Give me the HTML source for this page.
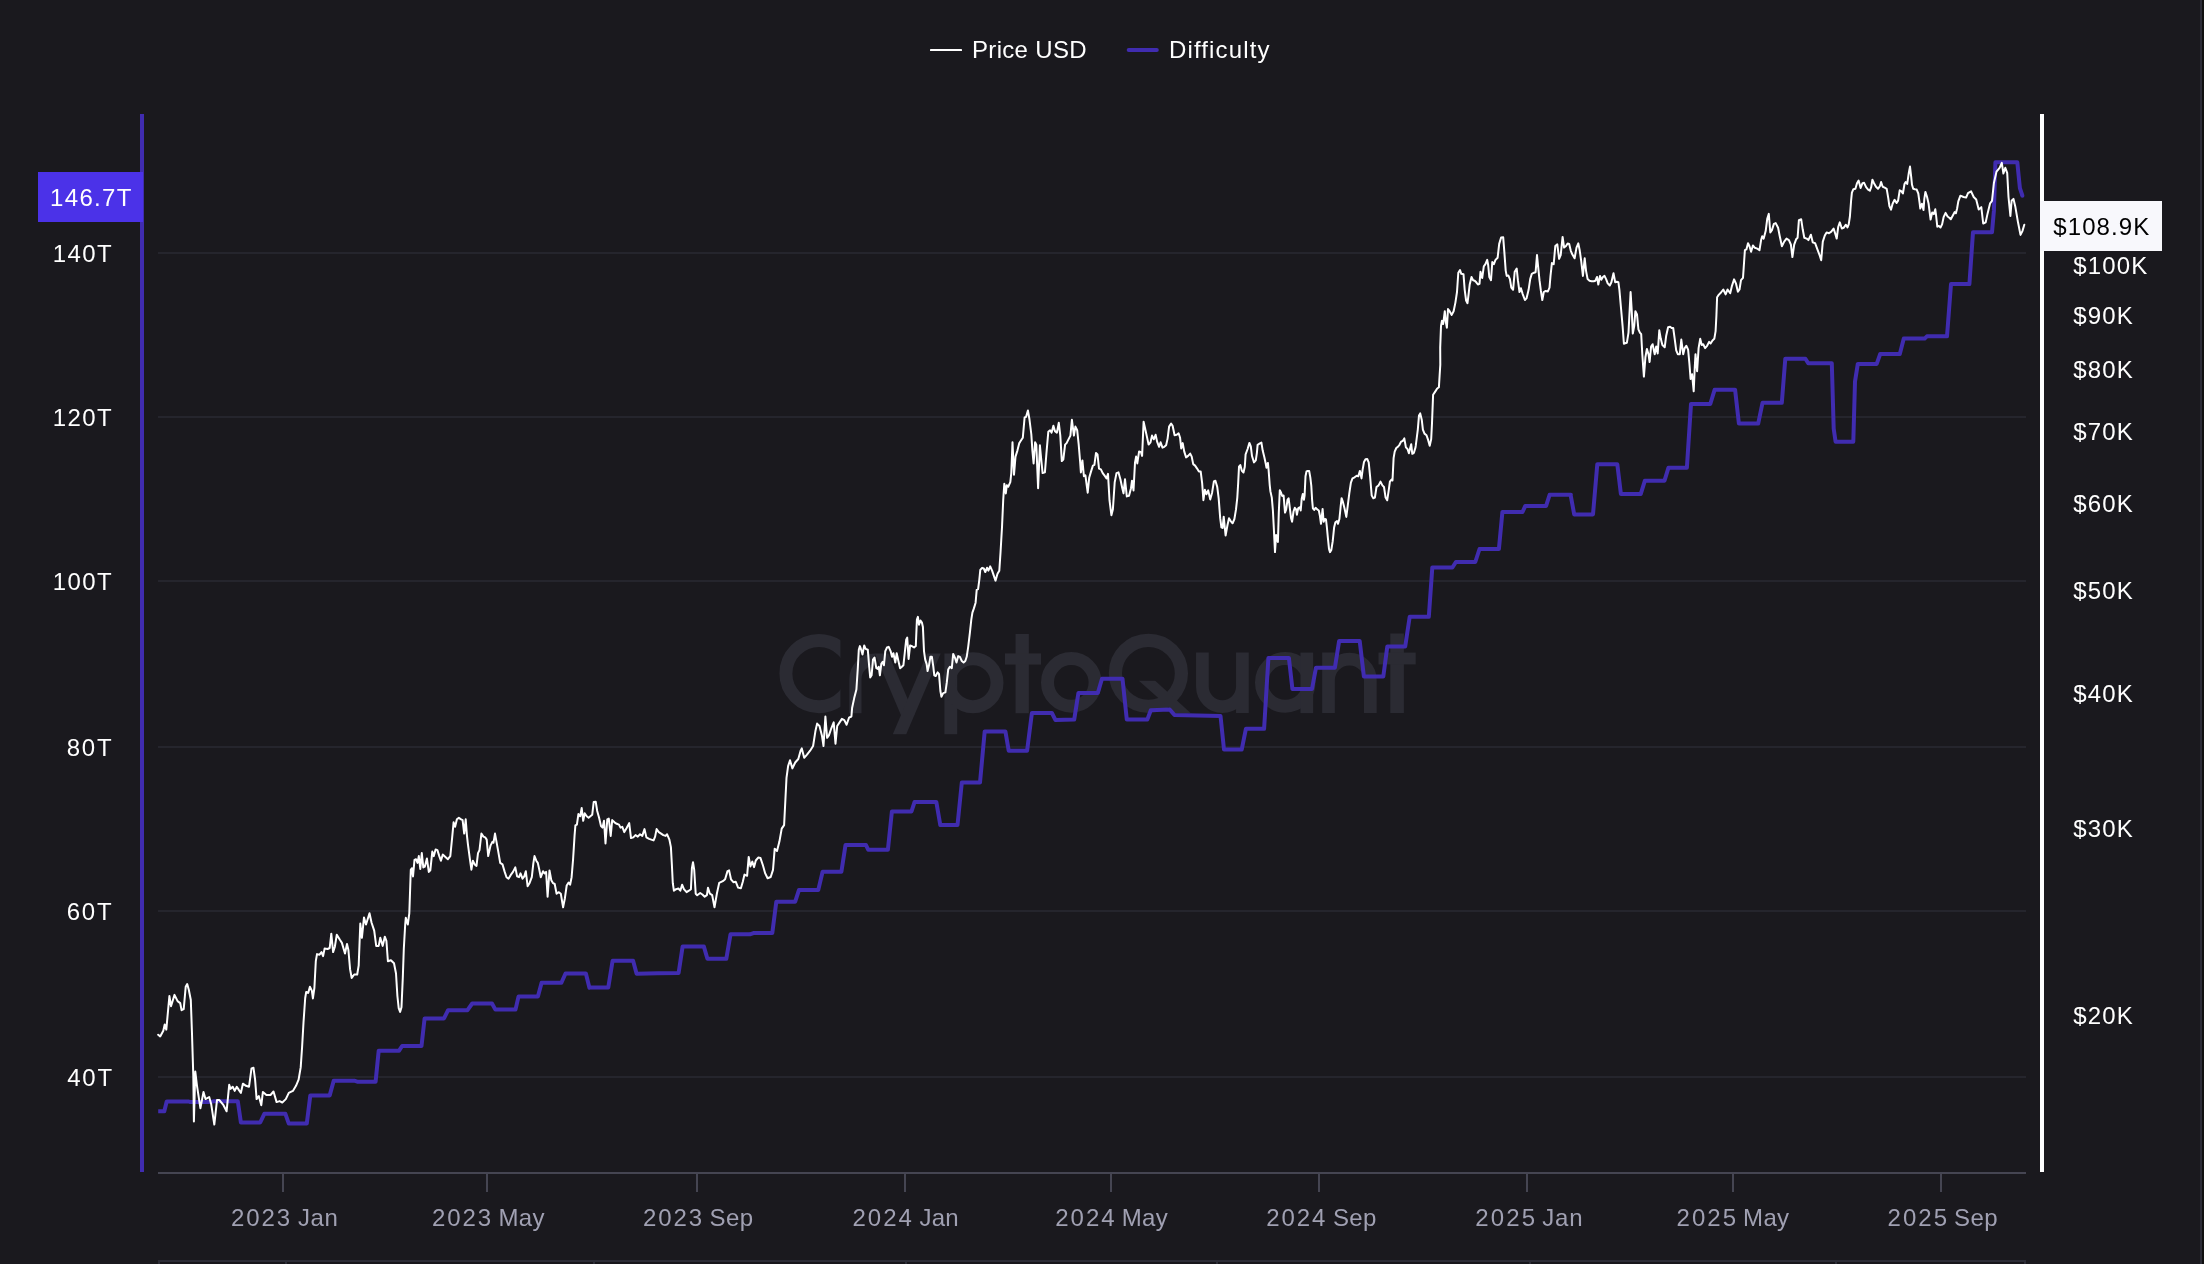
<!DOCTYPE html>
<html><head><meta charset="utf-8"><title>Price USD vs Difficulty</title>
<style>
html,body{margin:0;padding:0;background:#1a191e;}
body{width:2204px;height:1264px;overflow:hidden;font-family:"Liberation Sans",sans-serif;}
svg{display:block;will-change:transform;}
</style></head><body>
<svg width="2204" height="1264" viewBox="0 0 2204 1264">
<rect width="2204" height="1264" fill="#1a191e"/>
<rect x="2200" y="0" width="2" height="1264" fill="#2c2c36"/>
<rect x="2202" y="0" width="2" height="1264" fill="#101010"/>
<g fill="none" stroke="#2b2b33" stroke-width="13" stroke-linecap="butt">
<clipPath id="cc"><rect x="770" y="620" width="70.4" height="110"/></clipPath><circle cx="819" cy="673.6" r="33.1" clip-path="url(#cc)"/>
<path d="M855.4 713.3V679A19.5 19.5 0 0 1 874.9 659.5" stroke-width="12.2"/>
<path d="M950.8 653.4V734.3" stroke-width="12.8"/>
<circle cx="973" cy="682.7" r="24"/>
<path d="M1022.2 634V713.3" stroke-width="13.3"/>
<circle cx="1071.3" cy="682.4" r="23.8"/>
<circle cx="1148.4" cy="673.3" r="33" stroke-width="13.2"/>
<path d="M1202.4 652.6V686.6A20 20 0 0 0 1242.4 686.6M1242.4 652.6V713.1" stroke-width="12.7"/>
<circle cx="1285.3" cy="682.4" r="23.8"/>
<path d="M1306.8 652.6V713.1" stroke-width="12.7"/>
<path d="M1328.5 652.6V713.1M1328.5 680A20.9 20.9 0 0 1 1370.3 680V713.1" stroke-width="12.7"/>
<path d="M1397.1 633.6V713.1" stroke-width="13.6"/>
</g>
<g fill="#2b2b33">
<rect x="1005" y="653.4" width="36" height="11.2"/>
<rect x="1378.5" y="652.6" width="37.2" height="11.8"/>
<path d="M874.8 653.4H888.3L914.5 714.9H900.9Z"/>
<path d="M927.2 653.4H940.7L906.2 734.3H892.8Z"/>
<path d="M1138.9 680.8H1155.2L1190.6 713.1H1175.2Z"/>
</g>

<rect x="158" y="252" width="1868" height="2" fill="#25252d"/>
<rect x="158" y="416" width="1868" height="2" fill="#25252d"/>
<rect x="158" y="580" width="1868" height="2" fill="#25252d"/>
<rect x="158" y="746" width="1868" height="2" fill="#25252d"/>
<rect x="158" y="910" width="1868" height="2" fill="#25252d"/>
<rect x="158" y="1076" width="1868" height="2" fill="#25252d"/>
<rect x="158" y="1172" width="1868" height="2" fill="#454552"/>
<rect x="282" y="1174" width="2" height="18" fill="#454552"/>
<rect x="486" y="1174" width="2" height="18" fill="#454552"/>
<rect x="696" y="1174" width="2" height="18" fill="#454552"/>
<rect x="904" y="1174" width="2" height="18" fill="#454552"/>
<rect x="1110" y="1174" width="2" height="18" fill="#454552"/>
<rect x="1318" y="1174" width="2" height="18" fill="#454552"/>
<rect x="1526" y="1174" width="2" height="18" fill="#454552"/>
<rect x="1732" y="1174" width="2" height="18" fill="#454552"/>
<rect x="1940" y="1174" width="2" height="18" fill="#454552"/>
<rect x="158" y="1260" width="1868" height="2" fill="#2c2c36"/>
<rect x="158" y="1262" width="1868" height="2" fill="#17161b"/>
<rect x="158" y="1262" width="2" height="2" fill="#2c2c36"/>
<rect x="285" y="1262" width="2" height="2" fill="#2c2c36"/>
<rect x="593" y="1262" width="2" height="2" fill="#2c2c36"/>
<rect x="905" y="1262" width="2" height="2" fill="#2c2c36"/>
<rect x="1216" y="1262" width="2" height="2" fill="#2c2c36"/>
<rect x="1529" y="1262" width="2" height="2" fill="#2c2c36"/>
<rect x="1835" y="1262" width="2" height="2" fill="#2c2c36"/>
<rect x="2024" y="1262" width="2" height="2" fill="#2c2c36"/>
<path d="M158.2 1111.3L164.3 1111.3L166.7 1101.5L188.8 1101.5L189.8 1101.9L211.2 1101.9L213.7 1101.3L237.8 1101.3L240.9 1122.5L260.2 1122.5L264.3 1113.8L285.4 1113.8L288.8 1123.6L306.8 1123.6L310.3 1095.4L329.7 1095.4L333.7 1080.7L354.2 1080.7L357.2 1081.7L375.6 1081.7L378.7 1050.7L399.1 1050.7L402.1 1046.0L421.5 1046.0L424.6 1018.4L444.0 1018.4L448.1 1010.2L467.5 1010.2L472.2 1003.5L492.0 1003.5L495.4 1009.6L515.5 1009.6L518.5 996.6L537.9 996.6L541.6 982.7L561.4 982.7L565.5 973.5L585.9 973.5L589.4 987.8L589.4 987.4L608.3 987.4L612.6 960.7L633.1 960.7L636.6 973.7L657.9 973.2L678.6 973.0L682.6 946.6L703.9 946.6L707.4 958.8L726.3 958.8L730.5 934.3L749.9 934.3L753.4 933.1L772.3 933.1L776.3 901.7L795.2 901.7L799.0 889.9L818.3 889.9L822.6 871.8L841.4 871.8L845.5 845.1L866.0 845.1L868.3 849.8L887.9 849.8L891.9 811.4L911.5 811.4L914.6 801.9L936.3 801.9L940.3 825.1L957.5 825.1L961.8 782.6L980.0 782.6L984.7 731.4L1005.4 731.4L1008.7 750.7L1027.1 750.7L1031.9 713.0L1051.9 713.0L1055.5 720.1L1074.2 719.6L1078.4 693.0L1097.8 693.0L1102.0 678.8L1122.5 678.8L1126.8 719.6L1147.3 719.6L1150.8 710.2L1169.7 709.5L1174.4 714.9L1220.5 715.9L1224.0 749.6L1241.7 749.6L1245.9 728.8L1264.1 728.8L1268.4 658.1L1288.9 658.1L1292.4 689.0L1312.0 689.0L1316.0 667.7L1334.9 667.7L1339.1 641.1L1359.7 641.1L1363.9 676.5L1383.3 676.5L1387.3 646.5L1405.2 646.5L1409.7 616.8L1428.8 616.8L1432.3 567.5L1452.4 567.5L1455.9 562.0L1475.3 562.0L1479.5 549.0L1498.9 549.0L1502.4 512.0L1522.5 512.0L1525.3 505.9L1546.1 505.9L1549.6 494.8L1570.9 494.8L1570.6 494.8L1574.2 514.4L1593.0 514.4L1597.3 464.2L1617.3 464.2L1620.9 494.1L1640.7 494.1L1644.9 480.7L1664.5 480.7L1668.5 467.7L1686.9 467.7L1691.0 404.0L1710.3 404.0L1714.6 389.8L1735.1 389.8L1738.9 423.6L1758.2 423.6L1762.5 402.8L1781.8 402.8L1785.3 358.7L1805.4 358.7L1808.2 363.2L1831.8 363.2L1833.7 428.8L1835.6 441.7L1853.3 441.7L1855.0 381.6L1857.8 363.9L1876.7 363.9L1880.2 354.0L1899.8 354.0L1903.8 338.6L1924.6 338.6L1926.9 336.3L1947.0 336.3L1951.0 284.1L1969.4 284.1L1973.0 232.2L1992.0 232.2L1993.9 210.9L1995.4 162.2L2017.3 162.2L2018.6 175.4L2019.9 188.1L2022.4 195.7" fill="none" stroke="#402cb0" stroke-width="4" stroke-linejoin="round" stroke-linecap="butt"/>
<circle cx="2022.4" cy="195.7" r="2" fill="#402cb0"/>
<path d="M158.2 1034.7L160.2 1036.4L163.3 1030.7L164.7 1024.5L166.3 1029.6L169.4 996.0L171.0 1006.2L174.5 994.9L177.6 1001.1L180.2 1003.1L181.6 1010.2L183.7 1009.2L185.7 986.8L187.2 984.1L188.8 989.8L190.8 1000.0L191.9 1030.7L193.3 1075.6L193.9 1121.5L195.3 1071.5L197.0 1085.8L200.4 1108.2L203.5 1091.9L205.5 1099.1L209.2 1097.0L211.2 1104.2L214.3 1124.6L217.0 1100.1L219.4 1100.1L223.5 1105.2L226.6 1111.3L229.2 1084.8L230.6 1088.9L232.7 1086.8L234.7 1090.9L236.8 1086.8L238.8 1089.9L240.9 1092.9L242.9 1083.7L246.0 1085.8L249.0 1086.8L251.5 1068.4L253.5 1067.8L255.1 1079.7L256.6 1099.1L258.8 1096.0L261.3 1105.2L262.9 1091.9L266.4 1095.0L270.5 1095.0L273.5 1091.5L276.6 1102.1L279.6 1101.1L282.3 1102.5L285.8 1099.1L288.8 1092.9L292.9 1090.9L296.0 1085.8L298.6 1079.7L300.7 1067.4L302.1 1047.0L303.5 1022.5L305.2 998.0L306.2 991.9L308.2 992.9L309.9 986.8L311.9 990.9L312.9 998.4L314.4 987.8L315.8 961.2L317.0 954.1L319.5 954.7L321.5 952.1L323.1 956.1L324.6 948.6L327.6 949.0L329.7 948.0L331.3 933.7L333.1 952.1L334.8 947.0L336.8 934.7L339.9 939.8L341.9 942.9L345.0 953.5L347.0 943.9L348.4 950.0L350.1 969.4L351.7 978.0L354.2 974.5L357.2 974.5L358.7 965.3L360.3 923.5L361.9 937.8L364.0 917.4L366.0 924.5L369.5 913.3L371.5 922.5L374.2 930.6L376.2 945.9L378.7 945.9L380.3 937.8L382.7 945.9L384.8 936.7L386.4 940.8L387.9 961.2L390.9 960.2L394.0 963.3L396.0 973.5L397.4 996.0L398.7 1008.2L400.1 1011.9L401.5 1007.2L402.8 977.6L403.8 949.0L405.2 924.5L405.8 917.8L407.8 924.5L409.3 913.3L410.8 869.7L411.8 868.2L413.0 876.4L414.5 859.9L416.0 859.2L417.5 862.9L418.8 856.1L420.3 868.9L421.8 853.1L423.3 867.4L424.8 866.7L426.9 858.4L428.8 871.9L430.3 870.4L432.3 851.6L433.8 856.1L435.6 849.4L437.4 850.1L439.3 856.1L440.9 860.7L442.8 854.6L445.4 856.9L447.9 859.2L450.3 856.1L452.1 838.1L453.6 822.3L455.1 826.8L456.9 819.3L458.9 817.8L461.1 819.3L462.6 820.1L464.2 833.6L465.7 819.3L466.9 835.1L467.9 844.1L469.9 859.2L471.4 869.7L472.9 860.7L474.7 864.4L476.5 865.9L478.0 853.1L479.5 850.1L481.4 833.6L483.4 836.6L485.2 837.4L486.7 839.6L488.2 856.1L490.5 845.6L492.4 841.9L493.5 842.6L495.0 833.6L496.5 841.9L498.0 850.1L500.2 862.9L502.5 864.4L504.7 871.9L506.5 877.2L508.5 878.7L510.8 874.9L513.0 871.9L515.3 867.4L517.1 876.4L519.0 877.2L520.5 873.4L522.5 878.7L524.3 876.4L525.8 871.2L527.6 886.2L529.5 883.2L531.8 877.2L533.3 863.7L534.5 856.1L536.3 860.7L537.8 862.9L539.3 869.7L540.8 877.2L543.1 871.2L544.6 873.4L546.1 871.9L547.6 896.7L549.5 870.4L551.3 880.2L553.1 883.2L554.7 884.0L556.6 893.7L558.9 892.2L560.8 893.7L563.1 907.3L564.9 898.2L566.7 885.5L568.6 882.5L570.1 884.7L571.6 877.2L573.1 859.2L574.6 835.1L575.4 825.3L576.9 824.6L578.4 814.1L580.2 816.3L581.7 808.0L583.2 820.8L584.7 813.3L586.7 816.3L588.6 817.8L590.4 816.3L592.2 814.8L593.7 802.0L595.7 801.7L597.2 811.0L599.1 817.8L601.0 826.1L602.5 827.6L604.0 820.8L605.5 843.4L607.3 819.3L608.8 818.6L610.7 835.9L612.2 820.1L614.5 822.3L616.7 823.8L619.0 824.6L620.5 827.6L622.3 826.8L624.3 832.1L626.5 828.3L629.2 823.1L631.0 838.1L633.3 837.4L635.5 835.1L637.8 836.6L640.0 834.3L642.3 835.9L644.5 829.1L646.4 837.4L649.1 838.9L651.3 839.6L653.6 840.4L655.1 836.6L656.6 829.1L658.8 832.1L661.1 833.6L663.3 835.1L665.6 835.9L667.1 834.3L669.4 839.6L670.9 847.1L671.9 865.2L672.8 883.2L673.9 890.7L676.1 889.2L678.4 888.5L680.3 890.7L682.1 884.7L683.9 889.2L686.6 892.2L688.9 890.7L690.9 889.2L691.9 868.2L693.0 862.2L694.2 869.7L695.7 893.7L697.2 895.2L700.2 893.0L702.4 894.5L704.7 896.7L706.9 895.2L708.0 887.7L709.9 893.7L712.2 895.2L714.5 907.3L716.9 893.5L719.2 882.9L722.8 881.2L725.1 879.3L727.5 871.1L729.1 870.4L731.0 879.3L733.4 882.2L735.7 881.7L738.1 887.6L740.9 888.3L742.8 881.7L744.5 874.6L747.1 875.8L748.7 856.9L750.4 866.4L752.3 861.6L754.1 867.1L755.8 860.5L758.2 857.6L760.5 858.1L762.9 865.2L765.2 873.4L767.6 878.2L770.7 877.0L773.0 869.9L774.7 848.7L777.0 851.0L779.4 841.6L781.7 828.6L784.1 825.1L785.3 801.5L786.5 777.9L788.1 766.1L790.0 760.2L792.4 768.4L795.2 762.5L798.3 759.0L800.6 750.7L801.8 748.4L804.2 757.8L807.0 754.7L810.1 750.7L813.1 746.0L815.5 730.7L817.1 723.6L819.5 726.0L821.9 735.4L823.5 746.0L825.4 716.5L827.1 737.8L828.9 735.4L831.3 728.3L833.7 722.4L835.5 743.7L837.2 726.0L839.6 722.4L841.9 718.9L844.3 720.1L846.6 724.8L849.0 717.7L851.4 716.5L852.1 708.0L854.2 698.1L856.4 689.5L857.8 668.2L858.8 649.7L859.9 646.1L861.4 650.4L862.5 654.6L864.2 645.4L865.6 648.9L867.8 649.7L869.2 666.7L870.2 677.4L871.6 675.3L873.0 659.6L874.5 657.5L876.3 668.2L877.7 668.9L878.7 666.7L879.9 675.3L881.3 663.9L882.7 661.8L883.9 665.3L885.3 651.1L887.0 647.5L888.7 646.8L890.6 651.1L892.0 656.8L893.4 653.2L895.3 662.5L896.7 653.2L898.4 661.0L900.1 668.2L901.9 666.7L903.4 665.3L904.8 652.5L906.2 639.7L907.2 637.6L908.6 658.9L910.1 645.4L911.9 646.1L914.1 647.5L915.8 646.1L916.9 619.7L917.9 616.9L919.0 624.7L920.5 620.5L921.9 622.6L922.9 626.9L924.0 651.1L925.2 659.6L926.6 663.9L927.6 671.0L929.0 665.3L930.4 656.8L931.9 656.8L933.3 666.7L934.3 675.3L935.7 676.0L937.6 672.4L939.0 673.9L940.4 691.0L941.4 696.7L943.2 693.1L945.4 692.4L946.8 682.4L948.2 669.6L949.9 666.7L951.8 668.2L953.2 653.9L955.1 658.2L956.5 662.5L958.2 656.1L959.9 656.8L961.8 661.0L963.6 662.5L965.3 661.0L966.7 656.8L968.2 646.8L969.9 632.6L971.3 619.7L972.4 612.6L973.9 608.4L975.6 602.7L976.7 589.8L978.1 589.1L979.3 579.9L980.3 569.9L982.1 567.8L983.8 568.5L985.3 572.0L987.0 567.8L988.4 570.6L990.2 566.3L992.1 570.6L993.8 575.6L995.5 580.6L997.5 573.8L999.3 570.8L1000.5 552.8L1002.0 527.3L1003.2 500.2L1004.3 483.7L1005.8 493.4L1006.8 485.2L1008.3 486.7L1010.3 482.2L1011.3 473.1L1012.5 442.3L1014.0 474.7L1015.5 456.6L1017.4 450.6L1019.3 443.1L1020.8 440.8L1022.8 437.8L1024.6 417.5L1026.1 416.8L1027.9 410.5L1029.4 419.0L1031.3 434.1L1032.4 450.6L1033.6 463.4L1035.1 442.3L1036.3 444.6L1038.1 488.2L1039.9 445.3L1041.1 458.1L1042.6 473.1L1044.9 472.4L1046.4 453.6L1048.3 431.8L1050.1 430.3L1051.6 432.6L1053.4 425.8L1054.9 431.1L1056.9 432.6L1058.8 422.8L1060.3 435.6L1061.8 461.1L1063.3 459.6L1065.1 444.6L1066.6 443.1L1068.1 440.1L1070.4 435.6L1071.9 419.8L1073.9 435.6L1075.4 426.6L1077.2 430.3L1078.7 444.6L1080.2 462.6L1080.9 472.4L1082.4 460.4L1083.9 476.2L1085.4 475.4L1087.7 492.7L1089.2 477.7L1091.0 471.6L1092.9 465.6L1094.4 464.9L1096.0 452.9L1097.5 454.4L1099.0 468.6L1100.9 469.4L1102.7 473.1L1105.0 476.2L1106.5 478.4L1108.0 473.9L1109.5 500.2L1111.4 515.2L1112.9 509.2L1114.7 482.2L1116.5 473.1L1118.5 472.4L1120.4 479.2L1122.3 488.2L1123.5 493.4L1125.0 479.2L1126.8 496.4L1129.0 495.7L1131.0 488.2L1132.0 480.7L1133.5 490.4L1135.0 462.6L1136.1 456.6L1137.3 463.4L1139.1 451.4L1141.0 452.1L1142.1 455.9L1143.6 421.8L1145.5 430.3L1147.0 437.1L1148.6 444.6L1150.5 442.3L1152.0 435.6L1153.8 439.3L1155.6 434.8L1157.1 441.6L1159.1 446.8L1160.6 442.3L1162.5 447.6L1164.3 446.8L1166.1 445.3L1167.6 438.6L1169.1 426.6L1171.1 423.6L1172.6 425.8L1174.6 435.3L1176.7 434.8L1178.6 433.3L1180.1 437.8L1181.2 448.4L1182.7 443.1L1184.2 451.4L1186.1 457.4L1188.1 455.9L1190.2 453.6L1191.7 456.6L1193.2 464.1L1195.1 465.6L1197.1 468.6L1198.9 471.6L1200.7 471.6L1202.2 483.7L1203.4 500.2L1204.9 489.7L1206.4 494.2L1208.2 490.4L1210.2 499.4L1212.1 492.7L1213.9 481.4L1215.4 480.7L1217.2 486.7L1218.7 498.7L1220.2 518.2L1221.4 527.3L1222.6 528.0L1223.7 516.7L1225.6 535.5L1227.5 525.0L1229.0 518.2L1230.7 521.1L1232.6 523.3L1234.4 519.0L1236.0 509.4L1237.3 497.6L1238.2 482.7L1239.0 466.7L1240.3 465.1L1241.9 470.9L1243.5 472.5L1244.8 466.7L1245.6 454.4L1247.6 449.0L1249.4 442.9L1250.8 446.4L1252.0 456.0L1254.0 462.4L1255.8 460.3L1256.9 452.8L1257.6 444.8L1259.5 443.7L1261.4 442.6L1262.7 450.6L1264.3 457.0L1265.7 463.5L1266.5 467.7L1267.9 462.9L1268.6 469.9L1269.7 484.8L1270.4 491.2L1271.8 497.6L1272.9 510.5L1273.9 529.7L1275.0 552.1L1276.1 535.0L1277.9 542.0L1278.8 512.6L1279.8 490.2L1281.1 492.8L1282.2 496.0L1283.6 495.5L1285.0 512.6L1286.2 509.4L1287.5 499.8L1288.6 498.2L1290.0 509.4L1291.0 517.9L1292.1 521.7L1293.5 511.5L1294.8 507.8L1296.1 509.4L1296.9 514.7L1298.2 508.3L1299.6 507.3L1300.7 510.5L1301.7 498.7L1302.8 493.9L1303.9 499.8L1304.6 495.5L1305.5 476.3L1306.5 471.5L1307.8 470.9L1309.2 471.1L1310.3 477.3L1311.3 485.9L1312.1 499.8L1312.9 508.3L1314.2 509.9L1315.6 507.8L1317.2 509.4L1318.8 510.5L1319.9 515.8L1321.0 523.8L1322.6 508.9L1323.6 521.7L1324.9 519.0L1326.0 519.5L1326.8 526.5L1327.9 538.2L1329.0 548.9L1330.0 552.1L1331.3 550.0L1332.7 541.4L1334.1 527.6L1335.4 522.2L1337.0 521.1L1338.0 523.8L1339.4 519.0L1340.7 506.2L1341.6 498.2L1342.9 501.9L1344.5 508.3L1346.3 516.9L1347.7 506.2L1349.3 493.4L1350.9 482.7L1352.5 478.4L1354.6 477.3L1356.7 475.7L1358.3 476.3L1359.9 470.9L1361.5 478.4L1362.6 469.9L1364.0 461.9L1365.5 459.2L1367.2 459.0L1368.7 462.4L1370.1 476.3L1371.7 495.5L1373.3 498.2L1374.9 497.6L1376.5 487.0L1378.6 485.4L1380.5 481.6L1382.4 485.4L1384.0 487.0L1385.6 497.6L1387.2 500.3L1388.6 491.2L1389.9 481.6L1391.5 479.5L1392.5 480.5L1393.6 458.1L1394.7 451.7L1396.3 448.0L1398.2 446.4L1399.5 444.8L1401.1 441.6L1402.7 441.0L1404.3 438.4L1405.9 447.4L1407.5 449.0L1408.9 453.3L1410.2 448.0L1411.2 444.2L1412.3 453.8L1413.9 452.8L1415.5 447.4L1415.8 445.4L1417.8 429.6L1419.0 415.4L1420.2 413.4L1421.8 420.1L1422.9 429.6L1424.5 433.6L1426.5 435.2L1428.1 439.9L1429.7 445.8L1431.2 439.1L1432.0 423.3L1432.6 407.5L1433.1 394.8L1435.2 391.6L1437.2 388.5L1438.9 387.3L1439.6 375.8L1440.3 364.7L1440.2 347.5L1441.0 326.1L1441.9 320.8L1443.2 324.0L1444.8 311.2L1445.8 321.9L1446.9 327.7L1448.0 309.1L1449.6 311.2L1451.7 314.9L1453.6 311.2L1455.4 302.6L1457.0 292.0L1458.3 272.7L1460.0 270.1L1461.3 273.8L1463.5 274.3L1464.7 289.8L1466.1 300.5L1467.5 303.2L1468.6 294.1L1469.7 284.5L1471.5 277.0L1473.1 280.2L1474.7 280.7L1476.3 282.3L1477.9 284.5L1479.5 283.9L1480.5 271.7L1482.2 278.1L1483.8 266.3L1485.4 264.2L1487.2 259.9L1488.2 265.3L1489.3 277.0L1491.0 280.2L1492.3 262.0L1493.9 264.2L1495.5 259.9L1497.6 257.8L1499.2 243.9L1501.1 237.5L1503.2 237.3L1504.3 251.4L1505.7 270.6L1506.7 275.9L1508.3 275.4L1509.9 279.1L1511.3 287.7L1513.1 289.8L1514.7 271.7L1516.7 268.5L1517.9 280.2L1519.5 292.0L1520.9 288.2L1522.7 294.1L1524.9 300.0L1526.5 298.4L1528.6 289.8L1530.2 279.1L1531.8 273.8L1534.0 272.7L1535.6 272.2L1537.0 255.1L1538.2 267.4L1539.5 280.2L1540.9 290.9L1542.3 300.0L1543.8 292.0L1545.7 290.9L1547.9 291.4L1549.5 287.7L1550.5 275.9L1551.9 263.1L1553.7 264.2L1555.3 246.0L1557.3 244.4L1559.1 258.8L1560.7 255.1L1562.6 236.9L1564.1 247.6L1566.0 246.0L1567.6 243.4L1569.2 243.9L1570.8 250.8L1572.4 254.6L1574.6 258.3L1576.5 247.6L1578.3 243.4L1579.7 250.3L1581.2 261.0L1582.9 275.9L1584.7 258.3L1586.1 271.1L1587.6 279.1L1589.5 280.7L1591.6 281.3L1593.8 281.3L1595.4 280.7L1597.0 277.0L1598.3 284.5L1600.0 275.9L1601.3 279.7L1602.9 277.0L1604.5 275.9L1606.1 279.1L1607.7 283.4L1609.8 285.5L1611.4 282.3L1613.5 273.3L1615.2 282.3L1616.8 281.8L1618.4 282.3L1619.4 289.8L1621.0 308.0L1622.6 326.1L1623.9 343.8L1625.3 343.2L1626.9 342.7L1628.5 332.6L1629.6 311.2L1630.6 292.0L1631.7 310.1L1632.8 333.6L1634.2 326.1L1635.4 311.2L1637.0 314.4L1638.4 329.3L1639.9 332.6L1641.2 334.2L1642.3 354.2L1643.9 376.6L1645.4 357.3L1646.9 348.9L1648.5 354.2L1649.6 362.0L1651.1 346.5L1652.6 344.2L1654.7 354.2L1656.2 346.5L1657.7 353.5L1659.3 330.3L1660.8 338.8L1662.4 345.0L1664.7 347.3L1666.2 335.7L1668.1 327.3L1670.1 326.8L1671.6 328.0L1673.2 328.0L1674.7 338.8L1676.2 350.4L1677.8 354.2L1679.8 354.2L1681.3 339.6L1683.2 354.2L1684.7 348.1L1686.3 345.8L1688.1 349.6L1689.4 363.5L1690.6 378.9L1692.1 374.3L1693.7 391.3L1694.8 366.6L1695.5 354.2L1697.1 371.2L1698.6 348.1L1700.2 338.8L1701.7 345.0L1703.2 344.2L1705.1 348.1L1707.1 345.8L1709.1 341.9L1710.6 343.5L1712.5 340.4L1714.3 338.8L1715.6 331.1L1716.4 315.7L1717.1 297.2L1718.7 294.9L1721.0 292.5L1723.3 289.5L1725.6 294.4L1727.6 289.5L1730.2 293.3L1731.8 286.4L1734.1 279.4L1735.9 283.3L1737.9 291.8L1739.5 289.5L1741.0 280.2L1743.0 277.9L1744.1 261.7L1744.9 250.1L1746.4 249.4L1748.0 243.2L1749.5 246.3L1751.1 251.7L1752.9 245.5L1754.9 247.8L1757.2 248.6L1759.5 250.1L1761.1 240.1L1762.2 236.2L1763.7 238.6L1765.7 230.8L1767.3 218.5L1768.8 213.9L1770.3 232.4L1771.9 230.1L1773.9 223.9L1775.7 223.1L1778.1 227.8L1779.6 235.5L1781.9 246.3L1784.2 241.6L1786.5 238.6L1788.9 240.1L1790.9 244.7L1792.4 257.1L1794.2 244.7L1796.1 239.3L1797.6 237.8L1798.9 220.1L1801.2 219.3L1802.7 229.3L1804.3 237.8L1806.6 238.6L1808.4 240.1L1810.9 234.7L1812.8 242.4L1815.1 243.2L1817.4 249.4L1819.7 255.5L1821.2 260.2L1822.8 241.6L1824.8 235.5L1826.6 232.4L1829.0 233.2L1831.3 231.6L1833.6 228.5L1835.1 233.2L1836.7 238.6L1838.2 227.0L1839.8 222.4L1841.8 228.5L1843.6 227.8L1845.9 224.7L1847.5 227.5L1848.7 224.4L1849.9 216.5L1851.1 200.6L1851.9 192.7L1853.4 189.2L1855.4 188.8L1857.0 183.2L1858.6 180.5L1860.6 188.0L1862.5 183.2L1864.1 182.8L1866.1 187.2L1868.1 189.6L1869.9 190.7L1871.2 187.2L1872.4 179.7L1874.0 183.2L1876.0 186.8L1878.0 188.8L1880.0 186.0L1881.1 182.0L1882.7 186.8L1884.7 187.6L1886.7 188.8L1888.3 198.3L1889.4 206.2L1891.0 209.7L1892.6 203.8L1894.6 199.8L1896.6 203.0L1898.1 200.6L1899.7 190.3L1901.3 191.1L1902.9 193.5L1904.5 184.0L1905.7 182.0L1907.2 184.0L1908.8 172.9L1910.0 166.6L1911.2 176.9L1912.0 184.8L1913.2 188.8L1914.8 189.2L1916.7 189.6L1918.3 193.5L1919.5 202.2L1920.3 208.5L1921.9 203.8L1923.5 210.1L1924.3 199.1L1925.4 191.9L1927.0 196.7L1928.6 203.8L1929.8 213.3L1930.6 219.6L1932.2 212.5L1933.8 214.1L1935.3 209.3L1936.1 215.7L1937.3 226.7L1938.9 225.9L1940.5 227.5L1942.1 224.4L1943.6 217.2L1945.6 212.9L1947.6 216.5L1949.6 218.0L1950.8 219.2L1952.7 215.7L1954.7 212.1L1955.9 213.3L1957.1 208.5L1958.3 201.4L1960.4 195.7L1963.5 197.0L1966.1 197.6L1968.0 193.2L1971.1 191.3L1973.7 197.0L1976.2 199.5L1978.7 209.6L1981.3 207.1L1983.2 223.5L1985.7 222.3L1987.6 213.4L1990.1 203.3L1992.0 200.8L1993.9 183.0L1996.5 171.6L1999.6 167.8L2001.8 162.8L2003.4 173.5L2005.3 167.8L2007.2 172.9L2008.5 197.0L2010.4 215.9L2011.6 200.8L2013.5 198.9L2015.4 207.1L2018.0 222.3L2020.5 234.9L2022.4 231.1L2024.3 224.8" fill="none" stroke="#ffffff" stroke-width="2" stroke-linejoin="round" stroke-linecap="round"/>
<rect x="140" y="114" width="4" height="1058" fill="#402cb0"/>
<rect x="2040" y="114" width="4" height="1058" fill="#ffffff"/>
<rect x="38" y="172" width="105" height="50" fill="#4b32e8"/>
<rect x="2040" y="201" width="122" height="50" fill="#f8f8fc"/>
<text x="972.00" y="58.1" font-family="Liberation Sans, sans-serif" font-size="24" fill="#ffffff" textLength="114.56" lengthAdjust="spacing">Price USD</text>
<text x="1169.00" y="58.1" font-family="Liberation Sans, sans-serif" font-size="24" fill="#ffffff" textLength="100.42" lengthAdjust="spacing">Difficulty</text>
<text x="52.75" y="262.0" font-family="Liberation Sans, sans-serif" font-size="24" fill="#ffffff" textLength="58.90" lengthAdjust="spacing">140T</text>
<text x="52.75" y="426.0" font-family="Liberation Sans, sans-serif" font-size="24" fill="#ffffff" textLength="58.90" lengthAdjust="spacing">120T</text>
<text x="52.75" y="590.0" font-family="Liberation Sans, sans-serif" font-size="24" fill="#ffffff" textLength="58.90" lengthAdjust="spacing">100T</text>
<text x="66.75" y="756.0" font-family="Liberation Sans, sans-serif" font-size="24" fill="#ffffff" textLength="44.88" lengthAdjust="spacing">80T</text>
<text x="66.75" y="920.0" font-family="Liberation Sans, sans-serif" font-size="24" fill="#ffffff" textLength="44.88" lengthAdjust="spacing">60T</text>
<text x="67.25" y="1086.0" font-family="Liberation Sans, sans-serif" font-size="24" fill="#ffffff" textLength="44.88" lengthAdjust="spacing">40T</text>
<text x="50.00" y="205.9" font-family="Liberation Sans, sans-serif" font-size="24" fill="#ffffff" textLength="81.48" lengthAdjust="spacing">146.7T</text>
<text x="2073.25" y="274.1" font-family="Liberation Sans, sans-serif" font-size="24" fill="#ffffff" textLength="74.12" lengthAdjust="spacing">$100K</text>
<text x="2073.25" y="324.3" font-family="Liberation Sans, sans-serif" font-size="24" fill="#ffffff" textLength="59.53" lengthAdjust="spacing">$90K</text>
<text x="2073.25" y="378.4" font-family="Liberation Sans, sans-serif" font-size="24" fill="#ffffff" textLength="59.53" lengthAdjust="spacing">$80K</text>
<text x="2073.25" y="440.1" font-family="Liberation Sans, sans-serif" font-size="24" fill="#ffffff" textLength="59.53" lengthAdjust="spacing">$70K</text>
<text x="2073.25" y="512.4" font-family="Liberation Sans, sans-serif" font-size="24" fill="#ffffff" textLength="59.53" lengthAdjust="spacing">$60K</text>
<text x="2073.25" y="598.5" font-family="Liberation Sans, sans-serif" font-size="24" fill="#ffffff" textLength="59.53" lengthAdjust="spacing">$50K</text>
<text x="2073.25" y="702.4" font-family="Liberation Sans, sans-serif" font-size="24" fill="#ffffff" textLength="59.53" lengthAdjust="spacing">$40K</text>
<text x="2073.25" y="836.9" font-family="Liberation Sans, sans-serif" font-size="24" fill="#ffffff" textLength="59.53" lengthAdjust="spacing">$30K</text>
<text x="2073.25" y="1024.2" font-family="Liberation Sans, sans-serif" font-size="24" fill="#ffffff" textLength="59.53" lengthAdjust="spacing">$20K</text>
<text x="2053.25" y="234.6" font-family="Liberation Sans, sans-serif" font-size="24" fill="#000000" textLength="95.96" lengthAdjust="spacing">$108.9K</text>
<text x="231.00" y="1226.2" font-family="Liberation Sans, sans-serif" font-size="24" fill="#a0a0b2" textLength="59.22" lengthAdjust="spacing">2023</text>
<text x="298.00" y="1226.2" font-family="Liberation Sans, sans-serif" font-size="24" fill="#a0a0b2" textLength="39.85" lengthAdjust="spacing">Jan</text>
<text x="432.00" y="1226.2" font-family="Liberation Sans, sans-serif" font-size="24" fill="#a0a0b2" textLength="59.12" lengthAdjust="spacing">2023</text>
<text x="498.50" y="1226.2" font-family="Liberation Sans, sans-serif" font-size="24" fill="#a0a0b2" textLength="46.07" lengthAdjust="spacing">May</text>
<text x="643.00" y="1226.2" font-family="Liberation Sans, sans-serif" font-size="24" fill="#a0a0b2" textLength="59.17" lengthAdjust="spacing">2023</text>
<text x="709.50" y="1226.2" font-family="Liberation Sans, sans-serif" font-size="24" fill="#a0a0b2" textLength="43.57" lengthAdjust="spacing">Sep</text>
<text x="852.50" y="1226.2" font-family="Liberation Sans, sans-serif" font-size="24" fill="#a0a0b2" textLength="59.37" lengthAdjust="spacing">2024</text>
<text x="919.50" y="1226.2" font-family="Liberation Sans, sans-serif" font-size="24" fill="#a0a0b2" textLength="39.22" lengthAdjust="spacing">Jan</text>
<text x="1055.25" y="1226.2" font-family="Liberation Sans, sans-serif" font-size="24" fill="#a0a0b2" textLength="59.33" lengthAdjust="spacing">2024</text>
<text x="1121.75" y="1226.2" font-family="Liberation Sans, sans-serif" font-size="24" fill="#a0a0b2" textLength="46.05" lengthAdjust="spacing">May</text>
<text x="1266.25" y="1226.2" font-family="Liberation Sans, sans-serif" font-size="24" fill="#a0a0b2" textLength="59.07" lengthAdjust="spacing">2024</text>
<text x="1333.00" y="1226.2" font-family="Liberation Sans, sans-serif" font-size="24" fill="#a0a0b2" textLength="43.30" lengthAdjust="spacing">Sep</text>
<text x="1475.25" y="1226.2" font-family="Liberation Sans, sans-serif" font-size="24" fill="#a0a0b2" textLength="59.93" lengthAdjust="spacing">2025</text>
<text x="1542.25" y="1226.2" font-family="Liberation Sans, sans-serif" font-size="24" fill="#a0a0b2" textLength="40.35" lengthAdjust="spacing">Jan</text>
<text x="1676.50" y="1226.2" font-family="Liberation Sans, sans-serif" font-size="24" fill="#a0a0b2" textLength="59.67" lengthAdjust="spacing">2025</text>
<text x="1743.00" y="1226.2" font-family="Liberation Sans, sans-serif" font-size="24" fill="#a0a0b2" textLength="46.12" lengthAdjust="spacing">May</text>
<text x="1887.50" y="1226.2" font-family="Liberation Sans, sans-serif" font-size="24" fill="#a0a0b2" textLength="59.67" lengthAdjust="spacing">2025</text>
<text x="1954.00" y="1226.2" font-family="Liberation Sans, sans-serif" font-size="24" fill="#a0a0b2" textLength="43.60" lengthAdjust="spacing">Sep</text>
<rect x="930" y="49" width="32" height="2" rx="0.6" fill="#ffffff"/>
<path d="M1128.7 50H1156.8" stroke="#402cb0" stroke-width="4" stroke-linecap="round"/>
</svg>
</body></html>
